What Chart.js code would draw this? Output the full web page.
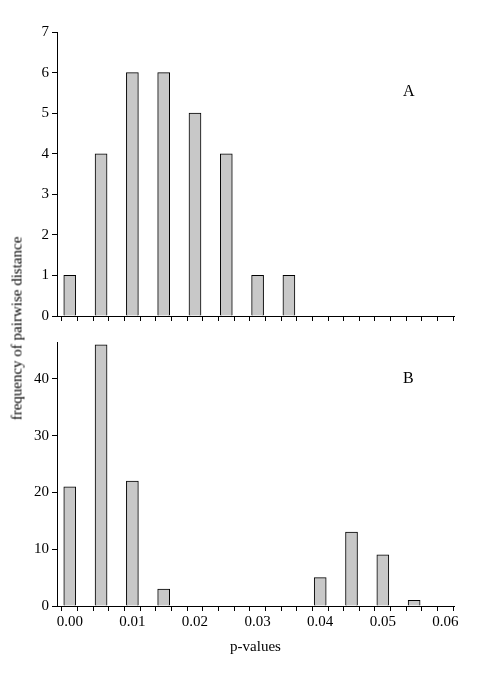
<!DOCTYPE html>
<html>
<head>
<script src="https://cdn.jsdelivr.net/npm/chart.js@4/dist/chart.umd.min.js"></script>
<style>
body { margin:0; background:#fff; width:478px; height:680px; position:relative; overflow:hidden; font-family:"Liberation Serif", serif; }
.c { position:absolute; left:0; width:478px; }
.lbl { position:absolute; font-size:16px; color:#000; }
</style>
</head>
<body>
<div class="c" style="top:0;height:330px"><canvas id="chartA"></canvas></div>
<div class="c" style="top:330px;height:350px"><canvas id="chartB"></canvas></div>
<div class="lbl" style="left:403px;top:82px">A</div>
<div class="lbl" style="left:403px;top:369px">B</div>
<div class="lbl" style="left:-98px;top:320px;width:230px;text-align:center;transform:rotate(-90deg);font-size:15px">frequency of pairwise distance</div>
<script>
var pvalues = [0.000, 0.005, 0.010, 0.015, 0.020, 0.025, 0.030, 0.035, 0.040, 0.045, 0.050, 0.055];
var countsA = [1, 4, 6, 6, 5, 4, 1, 1, 0, 0, 0, 0];
var countsB = [21, 46, 22, 3, 0, 0, 0, 0, 5, 13, 9, 1];
var ticksA = [0, 1, 2, 3, 4, 5, 6, 7];
var ticksB = [0, 10, 20, 30, 40];

Chart.defaults.font.family = '"Liberation Serif", serif';
Chart.defaults.color = '#000';

function points(counts) {
    var out = [];
    for (var i in pvalues) {
        if (counts[i] > 0) out.push({x: pvalues[i], y: counts[i]});
    }
    return out;
}

function makeChart(id, counts, ymax, yticks, showX, padTop, xHeight) {
    var ctx = document.getElementById(id).getContext('2d');
    return new Chart(ctx, {
        type: 'bar',
        data: {
            datasets: [{
                data: points(counts),
                backgroundColor: '#c8c8c8',
                borderColor: '#000',
                borderWidth: 1,
                barThickness: 12
            }]
        },
        options: {
            responsive: true,
            maintainAspectRatio: false,
            animation: false,
            layout: { padding: { top: padTop, right: 24, left: 0, bottom: 0 } },
            plugins: { legend: { display: false }, tooltip: { enabled: false } },
            scales: {
                x: {
                    type: 'linear',
                    min: -0.00077,
                    max: 0.0601,
                    afterBuildTicks: function (s) {
                        var t = [];
                        for (var k = 0; k <= 24; k++) t.push({value: k * 0.0025});
                        s.ticks = t;
                    },
                    afterFit: function (s) { s.height = xHeight; },
                    ticks: {
                        autoSkip: false, maxRotation: 0, padding: 2,
                        font: { size: 15 },
                        callback: function (v) {
                            if (!showX) return '';
                            var k = Math.round(v / 0.0025);
                            return k % 4 === 0 ? (k * 0.0025).toFixed(2) : '';
                        }
                    },
                    grid: { drawOnChartArea: false, tickLength: 5, color: '#000' },
                    border: { color: '#000' },
                    title: {
                        display: showX, text: 'p-values', font: { size: 15 },
                        padding: { top: 0, bottom: 24 }
                    }
                },
                y: {
                    min: 0,
                    max: ymax,
                    afterBuildTicks: function (s) {
                        s.ticks = yticks.map(function (v) { return {value: v}; });
                    },
                    afterFit: function (s) { s.width = 57; },
                    ticks: { font: { size: 15 }, padding: 3 },
                    grid: { drawOnChartArea: false, tickLength: 5, color: '#000' },
                    border: { color: '#000' }
                }
            }
        }
    });
}

makeChart('chartA', countsA, 7, ticksA, false, 32, 14);
makeChart('chartB', countsB, 46.5, ticksB, true, 10, 74);
</script>
</body>
</html>
